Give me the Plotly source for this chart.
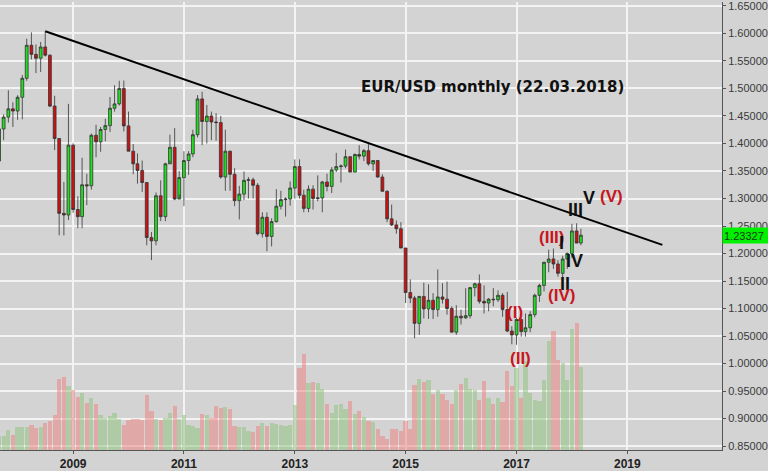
import plotly.graph_objects as go
import pandas as pd

# ---------------- data (EUR/USD monthly, 2007-09 .. 2018-03) ----------------
months = pd.date_range("2007-09-01", "2018-03-01", freq="MS").strftime("%Y-%m-%d").tolist()

opens = [
    1.3680, 1.4265, 1.4480, 1.4630,
    1.4590, 1.4840, 1.5185, 1.5785, 1.5620, 1.5550, 1.5755, 1.5605, 1.4680, 1.4090, 1.2730, 1.2700,
    1.3970, 1.2800, 1.2670, 1.3250, 1.3230, 1.4150, 1.4030, 1.4255, 1.4325, 1.4640, 1.4720, 1.5000,
    1.4320, 1.3860, 1.3630, 1.3510, 1.3290, 1.2290, 1.2230, 1.3050, 1.2670, 1.3630, 1.3930, 1.2990,
    1.3380, 1.3690, 1.3810, 1.4160, 1.4810, 1.4400, 1.4500, 1.4390, 1.4380, 1.3390, 1.3860, 1.3440,
    1.2960, 1.3080, 1.3330, 1.3340, 1.3240, 1.2360, 1.2660, 1.2310, 1.2580, 1.2860, 1.2980, 1.2990,
    1.3190, 1.3580, 1.3060, 1.2820, 1.3170, 1.3000, 1.3010, 1.3300, 1.3220, 1.3520, 1.3580, 1.3590,
    1.3760, 1.3480, 1.3800, 1.3770, 1.3870, 1.3630, 1.3690, 1.3390, 1.3130, 1.2630, 1.2520, 1.2450,
    1.2100, 1.1290, 1.1190, 1.0730, 1.1220, 1.0990, 1.1150, 1.0980, 1.1210, 1.1170, 1.1000, 1.0570,
    1.0860, 1.0830, 1.0870, 1.1380, 1.1450, 1.1130, 1.1100, 1.1170, 1.1160, 1.1240, 1.0980, 1.0590,
    1.0520, 1.0800, 1.0580, 1.0650, 1.0890, 1.1240, 1.1420, 1.1840, 1.1900, 1.1810, 1.1640, 1.1900,
    1.2000, 1.2410, 1.2190,
]
highs = [
    1.4280, 1.4529, 1.4967, 1.4750,
    1.4877, 1.5246, 1.5905, 1.6020, 1.5800, 1.5845, 1.6040, 1.5620, 1.4867, 1.4085, 1.3300, 1.4720,
    1.4000, 1.3040, 1.3740, 1.3450, 1.4180, 1.4340, 1.4300, 1.4450, 1.4845, 1.5060, 1.5140, 1.5145,
    1.4580, 1.3990, 1.3820, 1.3690, 1.3300, 1.2390, 1.3110, 1.3330, 1.3650, 1.4160, 1.4280, 1.3500,
    1.3860, 1.3860, 1.4250, 1.4880, 1.4940, 1.4700, 1.4580, 1.4550, 1.4500, 1.4250, 1.3870, 1.3550,
    1.3230, 1.3490, 1.3390, 1.3380, 1.3280, 1.2750, 1.2750, 1.2640, 1.3170, 1.3140, 1.3020, 1.3310,
    1.3710, 1.3710, 1.3160, 1.3240, 1.3240, 1.3420, 1.3320, 1.3450, 1.3570, 1.3830, 1.3620, 1.3890,
    1.3770, 1.3820, 1.3970, 1.3900, 1.3990, 1.3680, 1.3700, 1.3440, 1.3150, 1.2890, 1.2600, 1.2570,
    1.2100, 1.1530, 1.1230, 1.1210, 1.1470, 1.1440, 1.1280, 1.1710, 1.1460, 1.1490, 1.1040, 1.1060,
    1.0980, 1.1370, 1.1390, 1.1470, 1.1620, 1.1420, 1.1190, 1.1370, 1.1330, 1.1280, 1.1300, 1.0680,
    1.0830, 1.0830, 1.0910, 1.0950, 1.1270, 1.1450, 1.1850, 1.2070, 1.2090, 1.1880, 1.1960, 1.2020,
    1.2540, 1.2550, 1.2450,
]
lows = [
    1.3580, 1.4060, 1.4380, 1.4300,
    1.4430, 1.4440, 1.5140, 1.5530, 1.5280, 1.5300, 1.5580, 1.4660, 1.3880, 1.2330, 1.2330, 1.2610,
    1.2740, 1.2460, 1.2460, 1.2880, 1.3160, 1.3750, 1.3850, 1.4040, 1.4210, 1.4580, 1.4690, 1.4220,
    1.3860, 1.3440, 1.3270, 1.3120, 1.2150, 1.1880, 1.2150, 1.2590, 1.2590, 1.3690, 1.2970, 1.3070,
    1.2860, 1.3430, 1.3750, 1.4110, 1.3970, 1.4000, 1.4060, 1.4050, 1.3360, 1.3140, 1.3140, 1.2860,
    1.2620, 1.2970, 1.3000, 1.3000, 1.2330, 1.2290, 1.2040, 1.2130, 1.2560, 1.2800, 1.2670, 1.2870,
    1.3000, 1.3000, 1.2750, 1.2750, 1.2800, 1.2950, 1.2750, 1.3130, 1.3100, 1.3480, 1.3290, 1.3550,
    1.3480, 1.3480, 1.3710, 1.3680, 1.3600, 1.3500, 1.3380, 1.3130, 1.2570, 1.2500, 1.2360, 1.2100,
    1.1100, 1.1100, 1.0460, 1.0520, 1.0820, 1.0810, 1.0810, 1.0850, 1.1090, 1.0890, 1.0570, 1.0520,
    1.0710, 1.0810, 1.0820, 1.1220, 1.1090, 1.0910, 1.0950, 1.1040, 1.1120, 1.0850, 1.0570, 1.0350,
    1.0340, 1.0490, 1.0490, 1.0570, 1.0840, 1.1120, 1.1310, 1.1660, 1.1720, 1.1580, 1.1550, 1.1720,
    1.1920, 1.2200, 1.2150,
]
closes = [
    1.4265, 1.4480, 1.4630, 1.4590,
    1.4840, 1.5185, 1.5785, 1.5620, 1.5550, 1.5755, 1.5605, 1.4680, 1.4090, 1.2730, 1.2700, 1.3970,
    1.2800, 1.2670, 1.3250, 1.3230, 1.4150, 1.4030, 1.4255, 1.4325, 1.4640, 1.4720, 1.5000, 1.4320,
    1.3860, 1.3630, 1.3510, 1.3290, 1.2290, 1.2230, 1.3050, 1.2670, 1.3630, 1.3930, 1.2990, 1.3380,
    1.3690, 1.3810, 1.4160, 1.4810, 1.4400, 1.4500, 1.4390, 1.4380, 1.3390, 1.3860, 1.3440, 1.2960,
    1.3080, 1.3330, 1.3340, 1.3240, 1.2360, 1.2660, 1.2310, 1.2580, 1.2860, 1.2980, 1.2990, 1.3190,
    1.3580, 1.3060, 1.2820, 1.3170, 1.3000, 1.3010, 1.3300, 1.3220, 1.3520, 1.3580, 1.3590, 1.3760,
    1.3480, 1.3800, 1.3770, 1.3870, 1.3630, 1.3690, 1.3390, 1.3130, 1.2630, 1.2520, 1.2450, 1.2100,
    1.1290, 1.1190, 1.0730, 1.1220, 1.0990, 1.1150, 1.0980, 1.1210, 1.1170, 1.1000, 1.0570, 1.0860,
    1.0830, 1.0870, 1.1380, 1.1450, 1.1130, 1.1100, 1.1170, 1.1160, 1.1240, 1.0980, 1.0590, 1.0520,
    1.0800, 1.0580, 1.0650, 1.0890, 1.1240, 1.1420, 1.1840, 1.1900, 1.1810, 1.1640, 1.1900, 1.2000,
    1.2410, 1.2190, 1.23327,
]
volumes = [
    14, 14, 20, 15,
    23, 23, 23, 25, 22, 23, 27, 29, 36, 72, 74, 65,
    61, 54, 58, 48, 53, 47, 36, 32, 35, 38, 31, 25,
    30, 31, 31, 30, 56, 40, 31, 30, 32, 38, 45, 31,
    36, 25, 24, 22, 37, 36, 33, 45, 43, 44, 42, 24,
    23, 23, 19, 18, 24, 27, 24, 27, 26, 25, 24, 25,
    46, 83, 98, 68, 69, 68, 62, 47, 38, 46, 47, 42,
    50, 37, 40, 34, 29, 28, 21, 14, 11, 21, 21, 19,
    29, 21, 66, 72, 69, 71, 57, 61, 57, 51, 47, 61,
    67, 73, 62, 61, 51, 70, 53, 47, 53, 49, 80, 65,
    83, 53, 90, 58, 51, 50, 71, 111, 121, 91, 88, 71,
    123, 129, 84,
]

trend_dates = ["2008-07-01", "2019-08-20"]
trend_prices = [1.6040, 1.2156]

last_price = 1.23327
title_text = "EUR/USD monthly (22.03.2018)"

# Elliott-wave labels: text, date, price, colour
wave_labels = [
    ("V", "2018-04-25", 1.3010, "black"),
    ("(V)", "2018-09-21", 1.3028, "red"),
    ("III", "2018-01-23", 1.2795, "black"),
    ("(III)", "2017-08-25", 1.2294, "red"),
    ("I", "2017-10-21", 1.2187, "black"),
    ("IV", "2018-01-21", 1.1870, "black"),
    ("II", "2017-11-18", 1.1440, "black"),
    ("(IV)", "2017-10-25", 1.1244, "red"),
    ("(I)", "2016-12-25", 1.0936, "red"),
    ("(II)", "2017-01-25", 1.0088, "red"),
]

# ---------------- figure ----------------
BG = "#d3d3d3"
GRID = "#f3f3f3"
RED_TXT = "#c8161d"

vol_colors = [
    "rgba(140,195,120,0.5)" if c >= o else "rgba(240,125,125,0.5)"
    for o, c in zip(opens, closes)
]

fig = go.Figure()

fig.add_trace(go.Bar(
    x=months, y=volumes, yaxis="y",
    marker=dict(color=vol_colors, line=dict(width=0)),
    hoverinfo="skip", showlegend=False,
))

fig.add_trace(go.Candlestick(
    x=months, open=opens, high=highs, low=lows, close=closes,
    yaxis="y2",
    increasing=dict(fillcolor="#1ee01e", line=dict(color="#333333", width=0.8)),
    decreasing=dict(fillcolor="#d01010", line=dict(color="#333333", width=0.8)),
    hoverinfo="skip", showlegend=False,
))

fig.add_trace(go.Scatter(
    x=trend_dates, y=trend_prices, yaxis="y2", mode="lines",
    line=dict(color="black", width=2), hoverinfo="skip", showlegend=False,
))

annotations = [
    dict(text=title_text, xref="paper", yref="paper", x=0.682, y=0.811,
         showarrow=False, xanchor="center", yanchor="middle",
         font=dict(family="DejaVu Sans", size=15, color="#111111", weight="bold")),
    dict(text=f"{last_price:.5f}", xref="paper", yref="y2", x=1.0, y=last_price,
         xanchor="left", yanchor="middle", showarrow=False,
         bgcolor="#00f000", borderpad=1, width=43, height=13, align="left",
         font=dict(family="Arial", size=11, color="#1a3a1a")),
]
for txt, d, p, col in wave_labels:
    if col == "red":
        f = dict(family="Liberation Sans", size=17, color=RED_TXT, weight="bold")
    else:
        f = dict(family="Liberation Sans", size=18, color="#111111", weight="bold")
    annotations.append(dict(text=txt, x=d, y=p, xref="x", yref="y2",
                            showarrow=False, xanchor="center", yanchor="middle",
                            font=f))

fig.update_layout(
    width=768, height=471,
    margin=dict(l=0, r=45, t=0, b=16, pad=0),
    paper_bgcolor=BG, plot_bgcolor=BG,
    bargap=0,
    boxgap=0.05,
    showlegend=False,
    hovermode=False,
    xaxis=dict(
        type="date", range=["2007-09-07", "2020-09-16"],
        tick0="2009-01-01", dtick="M24", tickformat="%Y",
        showgrid=True, gridcolor=GRID, gridwidth=2,
        showline=True, linecolor="#555555", linewidth=1,
        ticks="outside", ticklen=3, tickcolor="#555555",
        tickfont=dict(family="Liberation Sans", size=12, color="#222222", weight="bold"),
        rangeslider=dict(visible=False), zeroline=False,
    ),
    yaxis=dict(range=[0, 455], visible=False, showgrid=False, fixedrange=True),
    yaxis2=dict(
        overlaying="y", side="right",
        range=[0.8428, 1.6572], tick0=0.85, dtick=0.05, tickformat=".5f",
        showgrid=True, gridcolor=GRID, gridwidth=2, zeroline=False,
        showline=True, linecolor="#555555", linewidth=1,
        ticks="outside", ticklen=3, tickcolor="#555555",
        ticklabeloverflow="allow",
        tickfont=dict(family="Arial", size=11, color="#3a3a3a"),
    ),
    annotations=annotations,
)

fig.write_html("out.html", config=dict(displayModeBar=False))
